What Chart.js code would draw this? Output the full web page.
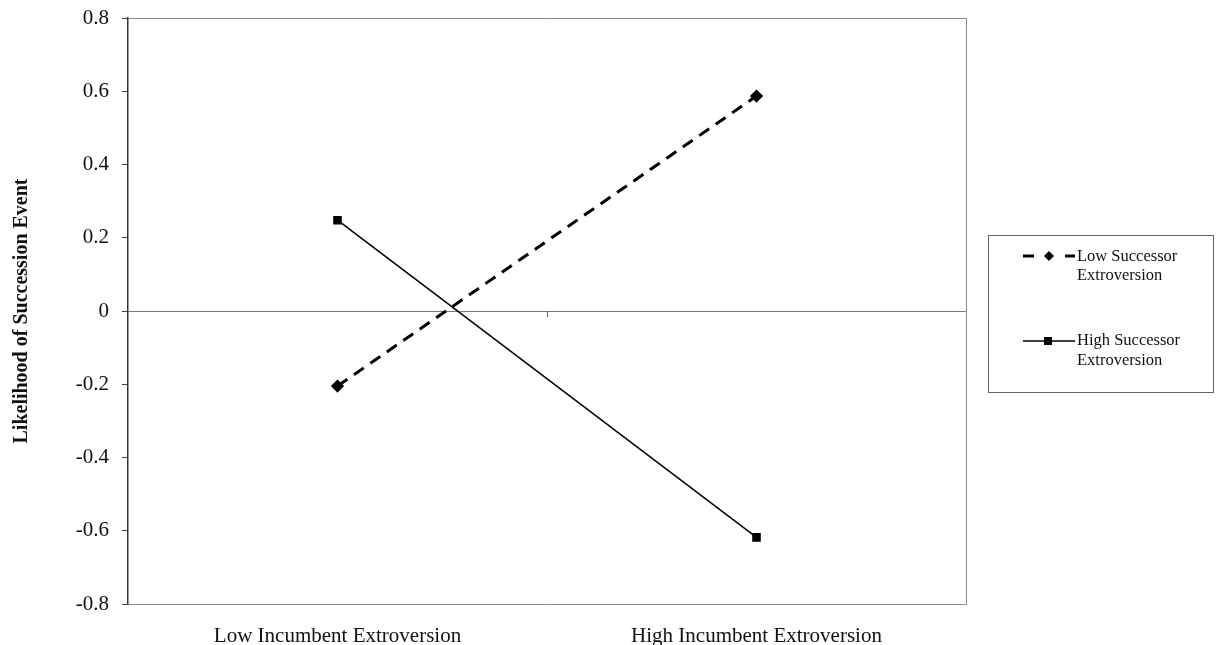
<!DOCTYPE html>
<html>
<head>
<meta charset="utf-8">
<script src="https://cdn.jsdelivr.net/npm/chart.js@4"></script>
<style>
  html, body { margin: 0; padding: 0; background: #fff; }
  #wrap { width: 1216px; height: 645px; }
</style>
</head>
<body>
<div id="wrap"><canvas id="chart" width="1216" height="645"></canvas></div>
<script>
// categories and series
const categories = ['Low Incumbent Extroversion', 'High Incumbent Extroversion'];
const lowSuccessor = [-0.205, 0.587];
const highSuccessor = [0.248, -0.618];
const yTicks = [-0.8, -0.6, -0.4, -0.2, 0, 0.2, 0.4, 0.6, 0.8];
const seriesNames = [['Low Successor', 'Extroversion'], ['High Successor', 'Extroversion']];

const serif = '"Liberation Serif", "Times New Roman", serif';

// box round the plot + the small middle tick on the zero line
const framePlugin = {
    id: 'frame',
    afterDraw(chart) {
        const { ctx, chartArea: a, scales } = chart;
        ctx.save();
        ctx.strokeStyle = '#8a8a8a';
        ctx.lineWidth = 1;
        ctx.beginPath();
        ctx.moveTo(a.left, a.top + 0.5);
        ctx.lineTo(a.right + 0.5, a.top + 0.5);
        ctx.lineTo(a.right + 0.5, a.bottom);
        ctx.stroke();
        const y0 = scales.y.getPixelForValue(0);
        const xm = (scales.x.getPixelForValue(0) + scales.x.getPixelForValue(1)) / 2;
        ctx.strokeStyle = '#666';
        ctx.beginPath();
        ctx.moveTo(Math.round(xm) + 0.5, y0);
        ctx.lineTo(Math.round(xm) + 0.5, y0 + 6);
        ctx.stroke();
        ctx.restore();
    }
};

// legend box on the right
const legendPlugin = {
    id: 'sideLegend',
    afterDraw(chart) {
        const { ctx } = chart;
        ctx.save();
        ctx.strokeStyle = '#666';
        ctx.lineWidth = 1;
        ctx.strokeRect(988.5, 235.5, 225, 157);

        // Low successor: dashed with diamond
        let y = 256;
        ctx.strokeStyle = '#000';
        ctx.lineWidth = 3;
        ctx.beginPath();
        ctx.moveTo(1023, y); ctx.lineTo(1034, y);
        ctx.moveTo(1065, y); ctx.lineTo(1075, y);
        ctx.stroke();
        ctx.fillStyle = '#000';
        ctx.beginPath();
        ctx.moveTo(1049, y - 5); ctx.lineTo(1054, y); ctx.lineTo(1049, y + 5); ctx.lineTo(1044, y);
        ctx.closePath(); ctx.fill();

        // High successor: solid with square
        y = 341;
        ctx.lineWidth = 1.5;
        ctx.beginPath();
        ctx.moveTo(1023, y); ctx.lineTo(1075, y);
        ctx.stroke();
        ctx.fillRect(1044, y - 4, 8, 8);

        ctx.font = '16.5px ' + serif;
        ctx.textBaseline = 'middle';
        ctx.fillStyle = '#111';
        ctx.fillText(seriesNames[0][0], 1077, 257);
        ctx.fillText(seriesNames[0][1], 1077, 276);
        ctx.fillText(seriesNames[1][0], 1077, 341);
        ctx.fillText(seriesNames[1][1], 1077, 361);
        ctx.restore();
    }
};

new Chart(document.getElementById('chart'), {
    type: 'line',
    data: {
        labels: categories,
        datasets: [{
            label: seriesNames[0].join(' '),
            data: lowSuccessor,
            borderColor: '#000',
            backgroundColor: '#000',
            borderWidth: 3,
            borderDash: [12, 8],
            pointStyle: 'rectRot',
            pointRadius: 4.5,
            pointHoverRadius: 4.5
        }, {
            label: seriesNames[1].join(' '),
            data: highSuccessor,
            borderColor: '#000',
            backgroundColor: '#000',
            borderWidth: 1.5,
            pointStyle: 'rect',
            pointRadius: 5,
            pointHoverRadius: 5
        }]
    },
    options: {
        responsive: false,
        animation: false,
        layout: { padding: { top: 18, right: 250, bottom: 0, left: 10 } },
        plugins: {
            legend: { display: false },
            tooltip: { enabled: false }
        },
        scales: {
            x: {
                offset: true,
                grid: { display: false },
                border: { color: '#8a8a8a' },
                ticks: { color: '#111', font: { family: serif, size: 21 }, padding: 12 },
                afterFit(scale) { scale.height = 41; }
            },
            y: {
                min: -0.8,
                max: 0.8,
                afterBuildTicks(scale) { scale.ticks = yTicks.map(v => ({ value: v })); },
                grid: {
                    color: c => (c.tick && c.tick.value === 0) ? '#7a7a7a' : 'transparent',
                    tickColor: '#444',
                    tickLength: 6
                },
                border: { color: '#333', width: 1.5 },
                ticks: {
                    color: '#111',
                    font: { family: serif, size: 21 },
                    padding: 13,
                    callback: v => String(Math.round(v * 10) / 10)
                },
                title: {
                    display: true,
                    text: 'Likelihood of Succession Event',
                    color: '#111',
                    font: { family: serif, size: 20, weight: 'bold' },
                    padding: { top: 0, bottom: 20 }
                },
                afterFit(scale) {
                    scale.width = 118;
                    scale.paddingTop = 0;
                    scale.paddingBottom = 0;
                }
            }
        }
    },
    plugins: [framePlugin, legendPlugin]
});
</script>
</body>
</html>
